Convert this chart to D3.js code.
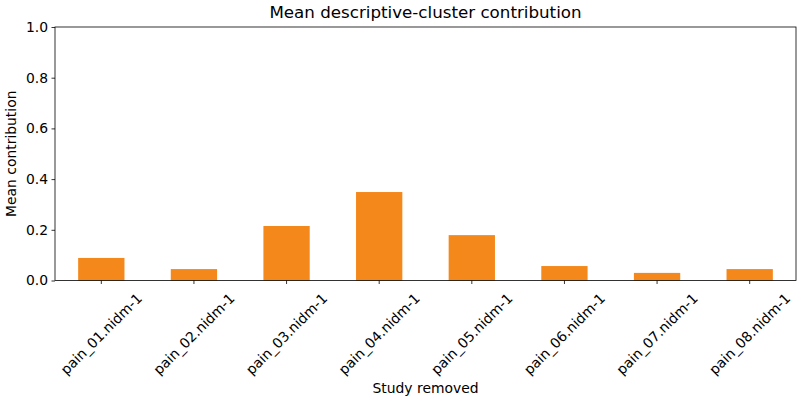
<!DOCTYPE html>
<html>
<head>
<meta charset="utf-8">
<script src="https://cdn.jsdelivr.net/npm/d3@7"></script>
<style>
  body { margin: 0; background: #fff; }
  text { font-family: "DejaVu Sans", sans-serif; fill: #000; }
</style>
</head>
<body>
<script>
let studies = ["pain_01.nidm-1", "pain_02.nidm-1", "pain_03.nidm-1", "pain_04.nidm-1",
  "pain_05.nidm-1", "pain_06.nidm-1", "pain_07.nidm-1", "pain_08.nidm-1"];
let contribution = [0.089, 0.045, 0.215, 0.349, 0.179, 0.057, 0.030, 0.045];
let yTicks = [0, 0.2, 0.4, 0.6, 0.8, 1.0];

let svg = d3.select('body')
  .append('svg')
  .attr("width", 800)
  .attr("height", 400);

let plotLeft = 55, plotRight = 796, plotTop = 27, plotBottom = 280.5;

let x = d3.scaleBand()
  .domain(studies)
  .range([plotLeft, plotRight])
  .paddingInner(0.5)
  .paddingOuter(0.25);

let y = d3.scaleLinear()
  .domain([0, 1])
  .range([plotBottom, plotTop]);

// bars
svg.selectAll("rect.bar")
  .data(contribution)
  .enter()
  .append("rect")
  .attr("class", "bar")
  .attr("x", (d, i) => x(studies[i]))
  .attr("y", d => y(d))
  .attr("width", x.bandwidth())
  .attr("height", d => y(0) - y(d))
  .attr("fill", "#f5881b");

// y axis
let yAxis = svg.append("g")
  .attr("transform", `translate(${plotLeft},0)`)
  .call(d3.axisLeft(y).tickValues(yTicks).tickFormat(d3.format(".1f")).tickSize(3.5).tickPadding(3.5));

// x axis
let xAxis = svg.append("g")
  .attr("transform", `translate(0,${plotBottom})`)
  .call(d3.axisBottom(x).tickSize(3.5).tickFormat(""));

[yAxis, xAxis].forEach(g => {
  g.select(".domain").remove();
  g.selectAll("line").attr("stroke", "#000").attr("stroke-width", 0.8);
  g.selectAll("text").style("font-size", "13.9px").attr("fill", "#000");
});

// rotated x labels
svg.selectAll("text.xlab")
  .data(studies)
  .enter()
  .append("text")
  .attr("class", "xlab")
  .attr("transform", d => `translate(${x(d) + x.bandwidth() / 2},334) rotate(-45)`)
  .attr("text-anchor", "middle")
  .attr("dy", "0.35em")
  .style("font-size", "13.9px")
  .text(d => d);

// frame
svg.append("rect")
  .attr("x", plotLeft)
  .attr("y", plotTop)
  .attr("width", plotRight - plotLeft)
  .attr("height", plotBottom - plotTop)
  .attr("fill", "none")
  .attr("stroke", "#000")
  .attr("stroke-width", 0.8);

// title and labels
svg.append("text")
  .attr("x", (plotLeft + plotRight) / 2)
  .attr("y", 18)
  .attr("text-anchor", "middle")
  .style("font-size", "16.7px")
  .text("Mean descriptive-cluster contribution");

svg.append("text")
  .attr("x", (plotLeft + plotRight) / 2)
  .attr("y", 393)
  .attr("text-anchor", "middle")
  .style("font-size", "13.9px")
  .text("Study removed");

svg.append("text")
  .attr("transform", `translate(16,${(plotTop + plotBottom) / 2}) rotate(-90)`)
  .attr("text-anchor", "middle")
  .style("font-size", "13.9px")
  .text("Mean contribution");
</script>
</body>
</html>
